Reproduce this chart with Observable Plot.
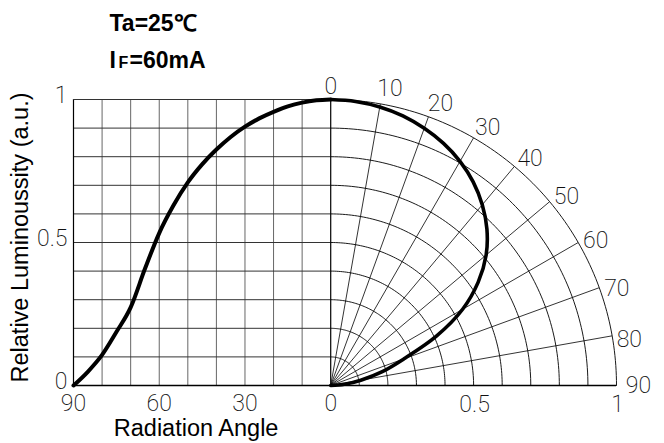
<!DOCTYPE html>
<html><head><meta charset="utf-8">
<script src="https://cdn.jsdelivr.net/npm/d3@7"></script>
<script src="https://cdn.jsdelivr.net/npm/@observablehq/plot@0.6"></script>
<style>body{margin:0;background:#fff} svg{display:block}</style>
</head><body><div id="chart"></div>
<script>
// Radiation pattern data (angle in degrees → relative luminosity)
const angles = [0,5,10,15,20,25,30,35,40,45,50,55,60,65,70,75,80,85,90];
const luminosity = [1.0,0.997,0.989,0.976,0.957,0.934,0.905,0.869,0.825,0.773,0.71,0.63,0.533,0.408,0.273,0.187,0.107,0.048,0];
const leftTickAngles = [90,60,30,0];
const rightTickValues = [0.5,1];
const rightTickLabels = ["0.5","1"];
const yTickValues = [0,0.5,1];
const yTickLabels = ["0","0.5","1"];
const polarAngleLabels = [0,10,20,30,40,50,60,70,80,90];
const radialAngles = [10,20,30,40,50,60,70,80];
const gridSteps = [0.1,0.2,0.3,0.4,0.5,0.6,0.7,0.8,0.9];
const arcRadii = [0.1,0.2,0.3,0.4,0.5,0.6,0.7,0.8,0.9,1.0];
const titleLine1 = "Ta=25℃";
const yTitle = "Relative Luminoussity (a.u.)";
const xTitle = "Radiation Angle";

const rad = a => a * Math.PI / 180;
const toU = a => -a / 100;           // left half: angle → x units
const data = angles.map((a, i) => ({a, v: luminosity[i]}));

const arcPts = arcRadii.flatMap(r => d3.range(0, 90.01, 1).map(t => ({r, t})));

const cad = {fontFamily: "Roboto", fontWeight: 200, fontSize: 23, fill: "#111"};
const arial = {fontFamily: "Liberation Sans, Arial, sans-serif"};

const chart = Plot.plot({
  width: 664, height: 443,
  marginLeft: 73, marginRight: 48, marginTop: 99, marginBottom: 58,
  x: {domain: [-0.9, 1], axis: null},
  y: {domain: [0, 1], axis: null},
  style: {background: "white", overflow: "visible"},
  marks: [
    // left rectangular grid
    Plot.ruleX(gridSteps.map(s => -s), {y1: 0, y2: 1, stroke: "#666", strokeWidth: 1}),
    Plot.ruleY(gridSteps, {x1: -0.9, x2: 0, stroke: "#333", strokeWidth: 1}),
    Plot.ruleX([toU(90)], {y1: 0, y2: 1, stroke: "#000", strokeWidth: 1.2}),
    Plot.ruleY([1], {x1: -0.9, x2: 0, stroke: "#333", strokeWidth: 1}),
    // polar grid
    Plot.line(arcPts, {x: d => d.r * Math.sin(rad(d.t)), y: d => d.r * Math.cos(rad(d.t)), z: "r", stroke: "#000", strokeWidth: 0.9}),
    Plot.link(radialAngles, {x1: 0, y1: 0, x2: a => Math.sin(rad(a)), y2: a => Math.cos(rad(a)), stroke: "#000", strokeWidth: 0.8}),
    Plot.ruleX([0], {y1: 0, y2: 1, stroke: "#000", strokeWidth: 1.2}),
    Plot.ruleY([0], {x1: -0.9, x2: 1, stroke: "#000", strokeWidth: 1.4}),
    // curves
    Plot.line(data, {x: d => toU(d.a), y: "v", curve: "monotone-x", stroke: "#000", strokeWidth: 4, strokeLinecap: "round"}),
    Plot.line(data, {x: d => d.v * Math.sin(rad(d.a)), y: d => d.v * Math.cos(rad(d.a)), curve: "catmull-rom", stroke: "#000", strokeWidth: 3.6, strokeLinecap: "round"}),
    // y tick labels
    Plot.text(yTickValues, {x: -0.9, y: d => d, text: (d, i) => yTickLabels[i], textAnchor: "end", dx: -6, dy: -4, ...cad}),
    // x tick labels (left: angle)
    Plot.text(leftTickAngles, {x: toU, y: 0, text: d => String(d), dy: 18, ...cad}),
    // x tick labels (right: radius)
    Plot.text(rightTickValues, {x: d => d, y: 0, text: (d, i) => rightTickLabels[i], dx: 1, dy: 19, ...cad}),
    // polar angle labels
    Plot.text(polarAngleLabels, {
      x: a => 1.057 * Math.sin(rad(a + (a > 0 && a < 90 ? 1.3 : 0))) + (a === 90 ? 0.02 : 0),
      y: a => (a === 0 ? 1.045 : 1.057) * Math.cos(rad(a + (a > 0 && a < 90 ? 1.3 : 0))),
      text: d => String(d), ...cad}),
    // axis titles
    Plot.text([yTitle], {frameAnchor: "left", textAnchor: "middle", dx: -53, dy: -5, rotate: -90, fontSize: 23.5, ...arial}),
    Plot.text([xTitle], {x: () => toU(45), y: 0, dx: -6, dy: 43, fontSize: 23.5, ...arial}),
    // header
    Plot.text([titleLine1], {frameAnchor: "top-left", dx: 36, dy: -69, textAnchor: "start", lineAnchor: "bottom", fontSize: 23, fontWeight: "bold", ...arial}),
    Plot.text(["I"], {frameAnchor: "top-left", dx: 36, dy: -32, textAnchor: "start", lineAnchor: "bottom", fontSize: 23, fontWeight: "bold", ...arial}),
    Plot.text(["F"], {frameAnchor: "top-left", dx: 45, dy: -32, textAnchor: "start", lineAnchor: "bottom", fontSize: 16, fontWeight: "bold", ...arial}),
    Plot.text(["=60mA"], {frameAnchor: "top-left", dx: 56, dy: -32, textAnchor: "start", lineAnchor: "bottom", fontSize: 23, fontWeight: "bold", ...arial})
  ]
});
document.getElementById("chart").appendChild(chart);
</script>
</body></html>
